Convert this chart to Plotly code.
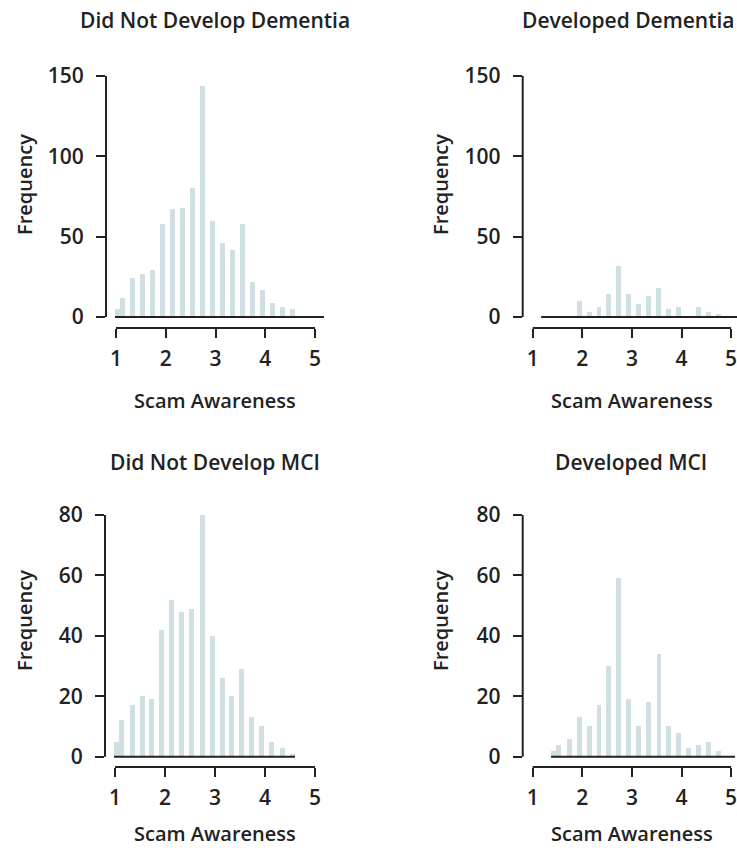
import plotly.graph_objects as go

# ---- data ----
titles = ["Did Not Develop Dementia", "Developed Dementia", "Did Not Develop MCI", "Developed MCI"]
x_label = "Scam Awareness"
y_label = "Frequency"

x_no_dem = [1.03, 1.13, 1.34, 1.54, 1.73, 1.93, 2.13, 2.33, 2.53, 2.74, 2.94, 3.14, 3.34, 3.54, 3.74, 3.94, 4.14, 4.35, 4.55]
y_no_dem = [5, 12, 24, 27, 29, 58, 67, 68, 80, 144, 60, 46, 42, 58, 22, 17, 9, 6, 5]

x_dem = [1.93, 2.13, 2.33, 2.53, 2.73, 2.93, 3.13, 3.33, 3.53, 3.74, 3.94, 4.34, 4.54, 4.74]
y_dem = [10, 3, 6, 14, 32, 14, 8, 13, 18, 5, 6, 6, 3, 2]

x_no_mci = [1.03, 1.13, 1.34, 1.54, 1.73, 1.93, 2.13, 2.33, 2.53, 2.74, 2.94, 3.14, 3.34, 3.54, 3.74, 3.94, 4.14, 4.35, 4.55]
y_no_mci = [5, 12, 17, 20, 19, 42, 52, 48, 49, 80, 40, 26, 20, 29, 13, 10, 5, 3, 1]

x_mci = [1.42, 1.52, 1.74, 1.93, 2.13, 2.33, 2.53, 2.73, 2.93, 3.13, 3.33, 3.54, 3.74, 3.94, 4.14, 4.34, 4.54, 4.74]
y_mci = [2, 4, 6, 13, 10, 17, 30, 59, 19, 10, 18, 34, 10, 8, 3, 4, 5, 2]

x_ticks = [1, 2, 3, 4, 5]
y_ticks_top = [0, 50, 100, 150]
y_ticks_bottom = [0, 20, 40, 60, 80]

baseline_start = [0.98, 1.17, 0.98, 1.37]
baseline_end = [5.18, 5.12, 4.60, 5.08]

# ---- style ----
W, H = 737, 848
BAR = "#d0dfe4"
INK = "#222222"
FONT = "Open Sans"
FS = 20

series = [(x_no_dem, y_no_dem), (x_dem, y_dem), (x_no_mci, y_no_mci), (x_mci, y_mci)]

# pixel layout per panel (left, right, top, bottom)
px = [(106, 330, 70, 328), (522.7, 737, 70, 328), (105, 330, 509, 767), (522.7, 737, 509, 767)]
xranges = [[0.799, 5.301], [0.798, 5.119], [0.799, 5.301], [0.798, 5.119]]
yranges = [[-6.85, 153.7], [-6.85, 153.7], [-3.41, 82.0], [-3.41, 82.0]]

fig = go.Figure()
layout = dict(width=W, height=H, margin=dict(l=0, r=0, t=0, b=0, pad=0, autoexpand=False),
              paper_bgcolor="white", plot_bgcolor="white", showlegend=False,
              font=dict(family=FONT, size=FS, color=INK), bargap=0)
shapes = []
annotations = []

for i, (xs, ys) in enumerate(series):
    n = i + 1
    xa = "x" if n == 1 else f"x{n}"
    ya = "y" if n == 1 else f"y{n}"
    fig.add_trace(go.Bar(x=xs, y=ys, width=0.1, marker=dict(color=BAR, line=dict(width=0)),
                         xaxis=xa, yaxis=ya, hoverinfo="x+y"))
    l, r, t, b = px[i]
    yt = y_ticks_top if i < 2 else y_ticks_bottom
    layout["xaxis" if n == 1 else f"xaxis{n}"] = dict(
        domain=[l / W, r / W], range=xranges[i], anchor=ya,
        showgrid=False, zeroline=False, showline=False, automargin=False,
        tickmode="array", tickvals=x_ticks, ticktext=[str(v) for v in x_ticks],
        ticks="outside", ticklen=9, tickwidth=2, tickcolor=INK,
        tickfont=dict(family=FONT, size=21, color=INK, weight=600),
        ticklabelstandoff=3, ticklabeloverflow="allow", fixedrange=True)
    layout["yaxis" if n == 1 else f"yaxis{n}"] = dict(
        domain=[1 - b / H, 1 - t / H], range=yranges[i], anchor=xa,
        showgrid=False, zeroline=False, showline=False, automargin=False,
        tickmode="array", tickvals=yt, ticktext=[str(v) for v in yt],
        ticks="outside", ticklen=9, tickwidth=2, tickcolor=INK,
        tickfont=dict(family=FONT, size=21, color=INK, weight=600),
        ticklabelstandoff=8, ticklabeloverflow="allow", fixedrange=True)
    # y axis line (R style: from first to last tick)
    shapes.append(dict(type="line", xref=f"{xa} domain", yref=ya, x0=0, x1=0,
                       y0=yt[0], y1=yt[-1], line=dict(color=INK, width=2)))
    # x axis line
    shapes.append(dict(type="line", xref=xa, yref=f"{ya} domain", x0=x_ticks[0], x1=x_ticks[-1],
                       y0=0, y1=0, line=dict(color=INK, width=2)))
    # baseline at zero
    shapes.append(dict(type="line", xref=xa, yref=ya, x0=baseline_start[i], x1=baseline_end[i],
                       y0=0, y1=0, line=dict(color=INK, width=2)))

# titles and axis labels
title_pos = [(215, 20), (628, 20), (215, 462), (631, 462)]
xlab_pos = [(215, 400), (632, 400), (215, 833), (632, 833)]
ylab_pos = [(24, 184), (440, 184), (24, 620), (440, 620)]
for i in range(4):
    tx, ty = title_pos[i]
    annotations.append(dict(text=titles[i], x=tx / W, y=1 - ty / H, xref="paper", yref="paper",
                            xanchor="center", yanchor="middle", showarrow=False,
                            font=dict(family=FONT, size=21, color=INK, weight=600)))
    lx, ly = xlab_pos[i]
    annotations.append(dict(text=x_label, x=lx / W, y=1 - ly / H, xref="paper", yref="paper",
                            xanchor="center", yanchor="middle", showarrow=False,
                            font=dict(family=FONT, size=FS, color=INK, weight=600)))
    yx, yy = ylab_pos[i]
    annotations.append(dict(text=y_label, x=yx / W, y=1 - yy / H, xref="paper", yref="paper",
                            xanchor="center", yanchor="middle", showarrow=False, textangle=-90,
                            font=dict(family=FONT, size=FS, color=INK, weight=600)))

layout["shapes"] = shapes
layout["annotations"] = annotations
fig.update_layout(**layout)
fig.write_html("out.html", config={"displayModeBar": False})
